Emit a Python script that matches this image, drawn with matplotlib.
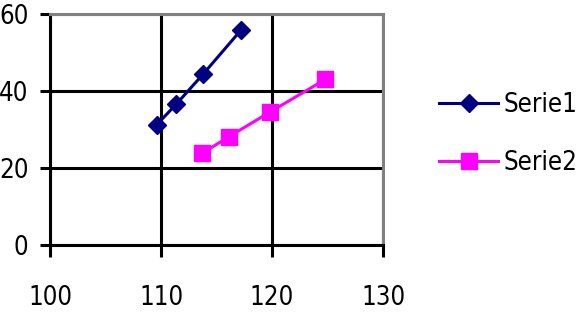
import matplotlib.pyplot as plt

# values
serie1_x = [109.6, 111.35, 113.8, 117.2]
serie1_y = [31.2, 36.5, 44.4, 55.8]
serie2_x = [113.7, 116.1, 119.8, 124.8]
serie2_y = [23.8, 28.1, 34.5, 43.0]

x_ticks = [100, 110, 120, 130]
y_ticks = [0, 20, 40, 60]

plt.rcParams['font.family'] = ['DejaVu Sans']
plt.rcParams['font.stretch'] = 'condensed'

fig = plt.figure(figsize=(5.79, 3.16), dpi=100)
ax = fig.add_axes([50 / 579, 71 / 316, 333 / 579, 231 / 316])

ax.plot(serie1_x, serie1_y, color='#000080', lw=2.2, marker='D', ms=9.5,
        label='Serie1', zorder=3, clip_on=False)
ax.plot(serie2_x, serie2_y, color='#ff00ff', lw=2.2, marker='s', ms=11,
        label='Serie2', zorder=3, clip_on=False)

ax.set_xlim(100, 130)
ax.set_ylim(0, 60)
ax.set_xticks(x_ticks)
ax.set_yticks(y_ticks)
ax.grid(True, color='black', lw=2.2)
ax.set_axisbelow(True)

for side in ['left', 'bottom']:
    ax.spines[side].set_color('black')
    ax.spines[side].set_linewidth(2.2)
for side in ['top', 'right']:
    ax.spines[side].set_color('#808080')
    ax.spines[side].set_linewidth(2.2)

ax.tick_params(axis='y', direction='out', length=7.5, width=2.2, pad=8, labelsize=18.5)
ax.tick_params(axis='x', direction='out', length=8.5, width=2.2, pad=20, labelsize=18.5)

fig.legend(loc='center left', bbox_to_anchor=(439 / 579, 1 - 134 / 316),
           frameon=False, fontsize=18.5, handlelength=2.3, handletextpad=0.2,
           labelspacing=1.25, borderpad=0, borderaxespad=0)

fig.savefig('out.png', dpi=100)
